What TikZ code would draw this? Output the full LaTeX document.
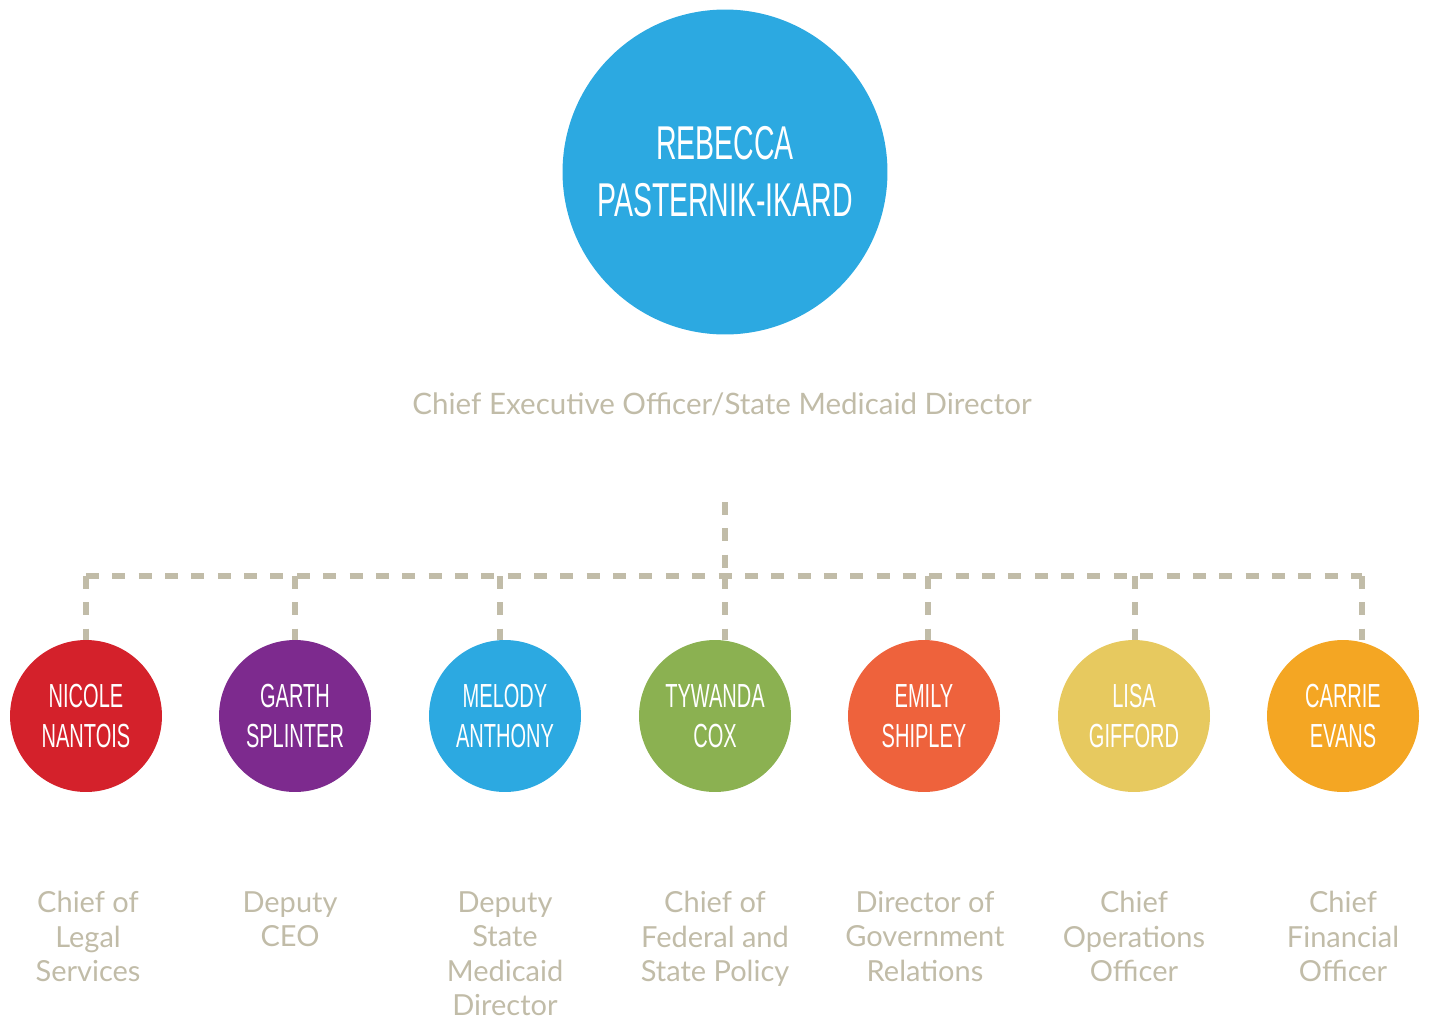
\documentclass[tikz,border=0pt]{standalone}
\usepackage{fontspec}
\setmainfont{Lato}
\newfontfamily\namefont[FakeStretch=0.6]{Liberation Sans}
\definecolor{ceoblue}{HTML}{2CA9E1}
\definecolor{legalred}{HTML}{D4212B}
\definecolor{deputypurple}{HTML}{7D2A8E}
\definecolor{policygreen}{HTML}{8BB151}
\definecolor{govorange}{HTML}{EE623C}
\definecolor{opsyellow}{HTML}{E7C95F}
\definecolor{finorange}{HTML}{F4A623}
\definecolor{taupe}{HTML}{C1BCA8}

\begin{document}
\begin{tikzpicture}[x=0.02cm, y=-0.02cm,
		person/.style={circle, inner sep=0pt, minimum size=3.04cm, text=white, align=center,
			font=\namefont\fontsize{19}{23}\selectfont},
		role/.style={anchor=north, inner sep=0pt, align=center, text=taupe,
			font=\fontsize{16.5}{19.6}\selectfont},
		link/.style={draw=taupe, line width=2.9pt, dash pattern=on 7.4pt off 7.6pt}]
	\useasboundingbox (0,0) rectangle (1429,1021);
	
	% head of the agency
	\node[circle, fill=ceoblue, inner sep=0pt, minimum size=6.5cm, text=white, align=center,
		font=\namefont\fontsize{27}{32.5}\selectfont] (ceo) at (725,172) {REBECCA\\PASTERNIK-IKARD};
	\node[anchor=base, text=taupe, font=\fontsize{16.8}{19}\selectfont] (ceotitle) at (722,414)
		{Chief Executive Officer/State Medicaid Director};
	
	% the seven direct reports
	\node[person, fill=legalred] (nicole) at (86,716) {NICOLE\\NANTOIS};
	\node[person, fill=deputypurple] (garth) at (295,716) {GARTH\\SPLINTER};
	\node[person, fill=ceoblue] (melody) at (505,716) {MELODY\\ANTHONY};
	\node[person, fill=policygreen] (tywanda) at (715,716) {TYWANDA\\COX};
	\node[person, fill=govorange] (emily) at (924,716) {EMILY\\SHIPLEY};
	\node[person, fill=opsyellow] (lisa) at (1134,716) {LISA\\GIFFORD};
	\node[person, fill=finorange] (carrie) at (1343,716) {CARRIE\\EVANS};
	
	\node[role] (nicolerole) at (88,891) {Chief of\\Legal\\Services};
	\node[role] (garthrole) at (290,891) {Deputy\\CEO};
	\node[role] (melodyrole) at (505,891) {Deputy\\State\\Medicaid\\Director};
	\node[role] (tywandarole) at (715,891) {Chief of\\Federal and\\State Policy};
	\node[role] (emilyrole) at (925,891) {Director of\\Government\\Relations};
	\node[role] (lisarole) at (1134,891) {Chief\\Operations\\Officer};
	\node[role] (carrierole) at (1343,891) {Chief\\Financial\\Officer};
	
	% dashed reporting lines
	\coordinate (trunk) at (725,502);
	\coordinate (hub) at (725,576);
	\coordinate (busleft) at (86,576);
	\coordinate (busright) at (1362,576);
	\draw[link] (trunk) -- (hub);
	\draw[link] (busleft) -- (busright);
	\draw[link] (busleft) -- (nicole);
	\draw[link] (295,576) -- (garth);
	\draw[link] (500,576) -- (melody.north -| 500,0);
	\draw[link] (hub) -- (tywanda.north -| hub);
	\draw[link] (928,576) -- (emily.north -| 928,0);
	\draw[link] (1135,576) -- (lisa.north -| 1135,0);
	\draw[link] (busright) -- (carrie.north -| busright);
\end{tikzpicture}
\end{document}
